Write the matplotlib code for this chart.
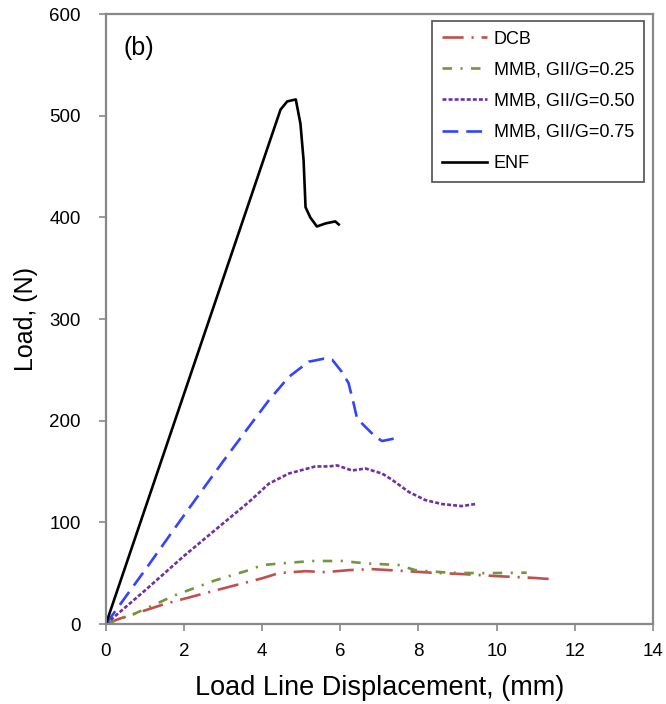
import matplotlib.pyplot as plt

plt.rcParams['font.family'] = ['Liberation Sans', 'DejaVu Sans']

# DCB
dcb_x = [0, 0.33, 1.53, 2.80, 4.00, 4.42, 5.11, 5.62, 6.21, 6.81, 7.49, 8.34, 9.20, 10.05, 10.90, 11.46]
dcb_y = [0, 5, 20, 33, 45, 50, 52, 51, 53, 54, 52.5, 50.5, 49, 47, 45.5, 44]

# MMB, GII/G=0.25
m25_x = [0, 0.67, 1.78, 2.80, 3.66, 4.00, 4.51, 5.28, 6.04, 6.64, 7.49, 7.92, 8.77, 9.62, 10.77]
m25_y = [0, 9, 28.5, 43, 53, 58, 59.7, 62, 62, 59.7, 58, 53, 50.5, 50, 50.5]

# MMB, GII/G=0.50
m50_x = [0, 1, 2, 3, 3.66, 4.17, 4.68, 5.36, 5.70, 5.92, 6.30, 6.64, 7.07, 7.32, 7.75, 8.17, 8.60, 9.11, 9.45]
m50_y = [0, 33, 67, 99, 120, 138, 148, 155, 155, 156, 151, 153, 148, 142, 130, 122, 118, 116, 118]

# MMB, GII/G=0.75
m75_x = [0, 1, 2, 3, 3.66, 4.17, 4.68, 5.19, 5.58, 5.79, 6.04, 6.21, 6.34, 6.43, 6.64, 6.90, 7.07, 7.45]
m75_y = [0, 53, 107, 160, 194, 220, 243, 258, 261, 260, 248, 237, 217, 202, 194, 184, 180, 183]

# ENF
enf_x = [0, 4.47, 4.64, 4.86, 4.98, 5.06, 5.11, 5.23, 5.40, 5.62, 5.87, 5.96]
enf_y = [0, 506, 514, 516, 492, 456, 410, 400, 391, 394, 396, 393]

fig = plt.figure(figsize=(6.66, 7.04), dpi=100)
ax = fig.add_axes([0.159, 0.1136, 0.8213, 0.8665])

lw = 1.9
ax.plot(dcb_x, dcb_y, color='#c0504d', lw=lw, dashes=(8, 3, 0.8, 3), label='DCB')
ax.plot(m25_x, m25_y, color='#77933c', lw=lw, dashes=(3.6, 3.2, 0.8, 3.2), label='MMB, GII/G=0.25')
ax.plot(m50_x, m50_y, color='#7030a0', lw=lw, dashes=(1.5, 0.8), label='MMB, GII/G=0.50')
ax.plot(m75_x, m75_y, color='#3344ff', lw=lw, dashes=(6, 3), label='MMB, GII/G=0.75')
ax.plot(enf_x, enf_y, color='black', lw=lw, label='ENF')

ax.set_xlim(0, 14)
ax.set_ylim(0, 600)
ax.set_xticks(range(0, 15, 2))
ax.set_yticks(range(0, 601, 100))
ax.set_xlabel('Load Line Displacement, (mm)', fontsize=19.5)
ax.set_ylabel('Load, (N)', fontsize=18)
ax.xaxis.set_label_coords(0.5, -0.084)
ax.yaxis.set_label_coords(-0.125, 0.5)
ax.tick_params(direction='out', length=5, width=1.2, color='#888888', labelsize=13.5)
ax.tick_params(axis='x', pad=9)
ax.tick_params(axis='y', pad=13)
for s in ax.spines.values():
    s.set_color('#888888')
    s.set_linewidth(1.6)

ax.text(0.032, 0.945, '(b)', transform=ax.transAxes, fontsize=18, va='center')

leg = ax.legend(loc='upper right', bbox_to_anchor=(0.984, 0.989), fontsize=13,
                frameon=True, fancybox=False, edgecolor='#222222', handlelength=2.5,
                handletextpad=0.35, labelspacing=0.78, borderpad=0.55, borderaxespad=0)
leg.get_frame().set_linewidth(1.2)

fig.savefig('out.png', dpi=100)
